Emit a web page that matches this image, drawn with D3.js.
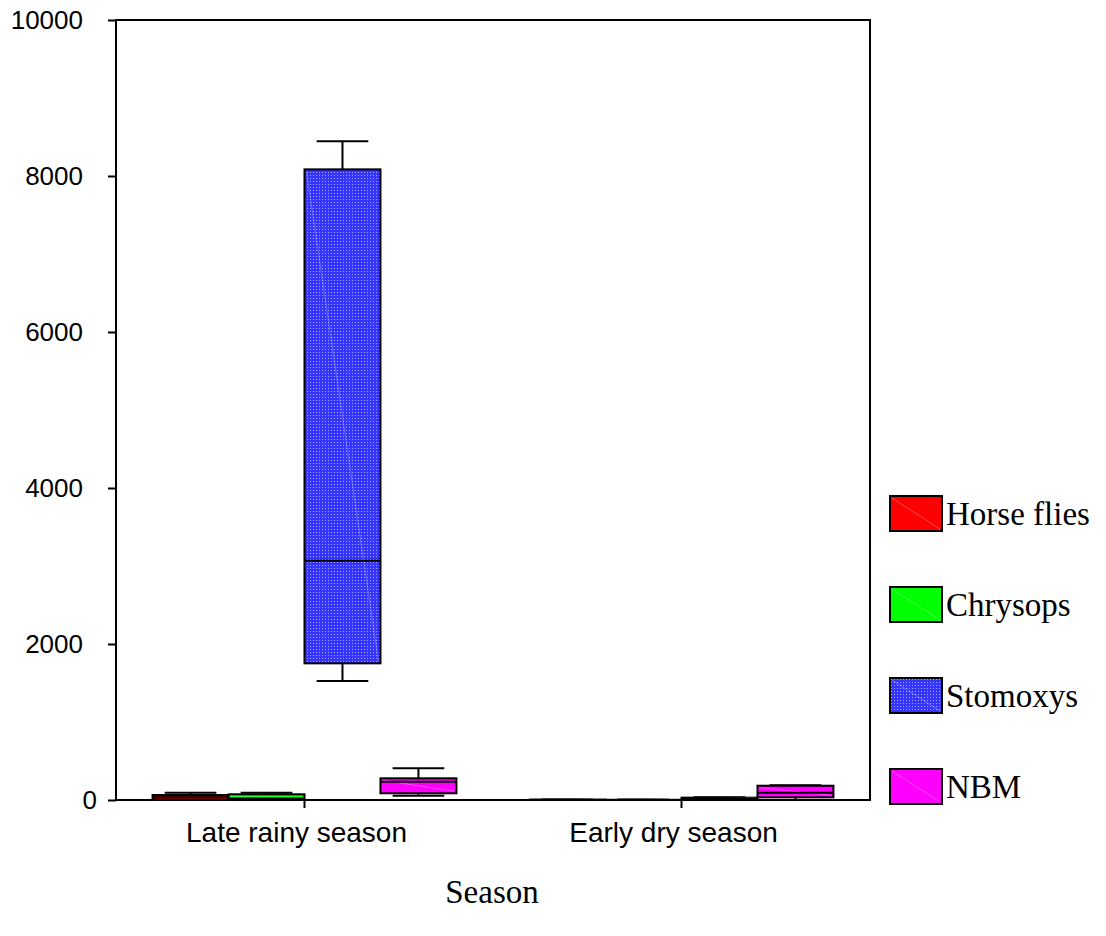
<html>
<head>
<script src="https://d3js.org/d3.v7.min.js"></script>
<style>
body { margin: 0; background: white; }
</style>
</head>
<body>
<svg id="chart" width="1106" height="936"></svg>
<script>
// categories and series
var seasons = ["Late rainy season", "Early dry season"];
var groups = ["Horse flies", "Chrysops", "Stomoxys", "NBM"];
var yTicks = [0, 2000, 4000, 6000, 8000, 10000];

// box stats per season: [min, q1, median, q3, max]
var horseFlies = [[0, 5, 34, 64, 94], [0, 0, 2, 4, 6]];
var chrysops   = [[0, 5, 20, 73, 94], [0, 0, 1, 3, 5]];
var stomoxys   = [[1525, 1752, 3068, 8085, 8445], [0, 5, 15, 30, 35]];
var nbm        = [[55, 86, 235, 278, 406], [0, 34, 94, 183, 190]];

var series = [horseFlies, chrysops, stomoxys, nbm];
var colors = ["#ff0000", "#00ff00", "url(#dots)", "#ff00ff"];

var plotL = 116, plotR = 870, plotT = 20, plotB = 800;

var svg = d3.select("#chart");

// dotted fill for stomoxys
var pat = svg.append("defs").append("pattern")
  .attr("id", "dots").attr("width", 3).attr("height", 3)
  .attr("patternUnits", "userSpaceOnUse");
pat.append("rect").attr("width", 3).attr("height", 3).attr("fill", "#3535ff");
pat.append("rect").attr("x", 1).attr("y", 1).attr("width", 1).attr("height", 1)
  .attr("fill", "#ffffff").attr("opacity", 0.55);

var x = d3.scaleBand().domain(seasons).range([plotL, plotR]);
var y = d3.scaleLinear().domain([0, 10000]).range([plotB, plotT]);
var groupW = x.bandwidth() * 0.806;
var xi = d3.scaleBand().domain(groups).range([0, groupW]);
var bw = xi.bandwidth();

// y axis
var gy = svg.append("g")
  .attr("transform", "translate(" + plotL + ",0)")
  .call(d3.axisLeft(y).tickValues(yTicks).tickSize(8).tickPadding(25).tickFormat(d3.format("d")));
gy.select(".domain").remove();
gy.selectAll("line").attr("stroke", "black").attr("stroke-width", 2);
gy.selectAll("text")
  .attr("font-family", "'Liberation Sans', Arial, sans-serif")
  .attr("font-size", "26px").attr("fill", "black")
  .attr("dx", function(d) { return d === 0 ? 14 : 0; });

// x axis
var gx = svg.append("g")
  .attr("transform", "translate(0," + plotB + ")")
  .call(d3.axisBottom(x).tickSize(8).tickPadding(14));
gx.select(".domain").remove();
gx.selectAll("line").attr("stroke", "black").attr("stroke-width", 2);
gx.selectAll("text")
  .attr("font-family", "'Liberation Sans', Arial, sans-serif")
  .attr("font-size", "28px").attr("fill", "black").attr("dx", -8);

// boxes
seasons.forEach(function(s, si) {
  var x0 = x(s) + x.bandwidth() / 2 - groupW / 2;
  groups.forEach(function(g, gi) {
    var st = series[gi][si];
    var bx = x0 + xi(g);
    var cx = bx + bw / 2;
    var cap = bw * 0.34;
    var gg = svg.append("g");
    gg.append("line").attr("x1", cx).attr("x2", cx).attr("y1", y(st[3])).attr("y2", y(st[4]))
      .attr("stroke", "black").attr("stroke-width", 2);
    gg.append("line").attr("x1", cx).attr("x2", cx).attr("y1", y(st[1])).attr("y2", y(st[0]))
      .attr("stroke", "black").attr("stroke-width", 2);
    gg.append("line").attr("x1", cx - cap).attr("x2", cx + cap).attr("y1", y(st[4])).attr("y2", y(st[4]))
      .attr("stroke", "black").attr("stroke-width", 2);
    gg.append("line").attr("x1", cx - cap).attr("x2", cx + cap).attr("y1", y(st[0])).attr("y2", y(st[0]))
      .attr("stroke", "black").attr("stroke-width", 2);
    gg.append("rect").attr("x", bx).attr("y", y(st[3]))
      .attr("width", bw).attr("height", Math.max(0, y(st[1]) - y(st[3])))
      .attr("fill", colors[gi]).attr("stroke", "black").attr("stroke-width", 2);
    gg.append("line").attr("x1", bx + 2).attr("x2", bx + bw - 2).attr("y1", y(st[3]) + 2).attr("y2", y(st[1]) - 2)
      .attr("stroke", "white").attr("stroke-opacity", 0.25).attr("stroke-width", 1);
    gg.append("line").attr("x1", bx).attr("x2", bx + bw).attr("y1", y(st[2])).attr("y2", y(st[2]))
      .attr("stroke", "black").attr("stroke-width", 2);
  });
});

// frame
svg.append("rect").attr("x", plotL).attr("y", plotT)
  .attr("width", plotR - plotL).attr("height", plotB - plotT)
  .attr("fill", "none").attr("stroke", "black").attr("stroke-width", 2);

// axis title
svg.append("text").attr("x", 492).attr("y", 903).attr("text-anchor", "middle")
  .attr("font-family", "'Liberation Serif', 'Times New Roman', serif")
  .attr("font-size", "33px").text("Season");

// legend
var lg = svg.append("g").selectAll("g").data(groups).enter().append("g")
  .attr("transform", function(d, i) { return "translate(890," + (496 + i * 91) + ")"; });
lg.append("rect").attr("width", 52).attr("height", 35)
  .attr("fill", function(d, i) { return colors[i]; })
  .attr("stroke", "black").attr("stroke-width", 2);
lg.append("line").attr("x1", 2).attr("y1", 2).attr("x2", 50).attr("y2", 33)
  .attr("stroke", "white").attr("stroke-opacity", 0.3);
lg.append("text").attr("x", 56).attr("y", 29)
  .attr("font-family", "'Liberation Serif', 'Times New Roman', serif")
  .attr("font-size", "33px").text(function(d) { return d; });
</script>
</body>
</html>
